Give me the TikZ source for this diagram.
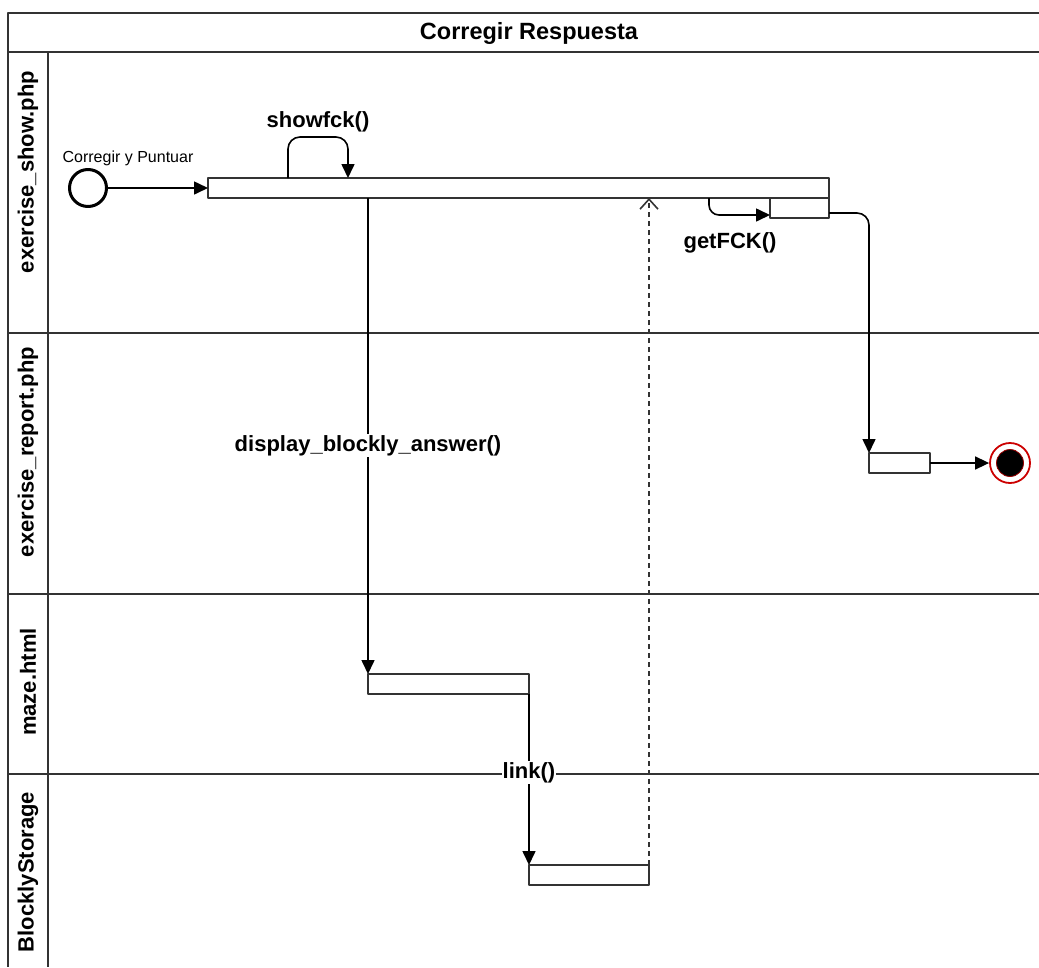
\documentclass[tikz,border=0pt]{standalone}
\usepackage{fontspec}
\setmainfont{Liberation Sans}
\usetikzlibrary{arrows.meta}

\begin{document}
\begin{tikzpicture}[x=1pt, y=-1pt, line join=round, font=\fontsize{22}{26}\selectfont\bfseries,
	>={Triangle[length=14pt,width=13pt]},
	lane/.style={draw=black!80, line width=1.8pt},
	act/.style={draw=black!80, line width=2pt, fill=white, inner sep=0pt, outer sep=0pt, anchor=north west, minimum height=20pt},
	flow/.style={->, line width=1.6pt},
	lbl/.style={fill=white, inner sep=1pt}]
	\useasboundingbox (0,0) rectangle (1039,967);
	% Marco y carriles
	\draw[lane] (1039,13) -- (8,13) -- (8,967);
	\draw[lane] (8,52) -- (1039,52);
	\draw[lane] (48,52) -- (48,967);
	\foreach \y in {333,594,774}
		\draw[lane] (8,\y) -- (1039,\y);
	\node[font=\fontsize{23.5}{28}\selectfont\bfseries] (title) at (529,33) {Corregir Respuesta};
	\node[rotate=90] (lshow) at (28,172) {exercise\_show.php};
	\node[rotate=90] (lreport) at (28,452) {exercise\_report.php};
	\node[rotate=90] (lmaze) at (28,682) {maze.html};
	\node[rotate=90] (lstore) at (28,872) {BlocklyStorage};
	% Actividades
	\node[circle, draw, line width=3pt, minimum size=37pt, inner sep=0pt] (start) at (88,188) {};
	\node[font=\fontsize{16}{18}\selectfont] (startlbl) at (128,158) {Corregir y Puntuar};
	\node[act, minimum width=621pt] (show) at (208,178) {};
	\node[act, minimum width=59pt] (getfck) at (770,198) {};
	\node[act, minimum width=61pt] (report) at (869,453) {};
	\node[act, minimum width=161pt] (maze) at (368,674) {};
	\node[act, minimum width=120pt] (store) at (529,865) {};
	\node[circle, draw=red!80!black, line width=1.8pt, fill=white, minimum size=40pt, inner sep=0pt] (end) at (1010,463) {};
	\node[circle, fill=black, draw=red!60!black, line width=0.8pt, minimum size=27pt, inner sep=0pt] (endin) at (end) {};
	% Flujos
	\draw[flow] (start) -- (show.west);
	\draw[flow, rounded corners=12pt] ([xshift=80pt]show.north west) -- ++(0,-41) -- ++(60,0) -- ++(0,41);
	\node (showlbl) at (318,122) {showfck()};
	\draw[flow, rounded corners=10pt] ([xshift=501pt]show.south west) |- ([yshift=-7pt]getfck.west);
	\node (getlbl) at (730,243) {getFCK()};
	\draw[flow] (maze.north west |- show.south) -- (maze.north west)
		node[lbl, pos=0.52] {display\_blockly\_answer()};
	\draw[flow] (maze.south east) -- (store.north west) node[lbl, pos=0.46] {link()};
	\draw[black!80, line width=1.6pt, dash pattern=on 5pt off 4pt, -{Straight Barb[length=10pt,width=18pt]}]
		(store.north east) -- (store.north east |- show.south);
	\draw[flow, rounded corners=12pt] ([yshift=-5pt]getfck.east) -| (report.north west);
	\draw[flow] (report) -- (end);
\end{tikzpicture}
\end{document}
